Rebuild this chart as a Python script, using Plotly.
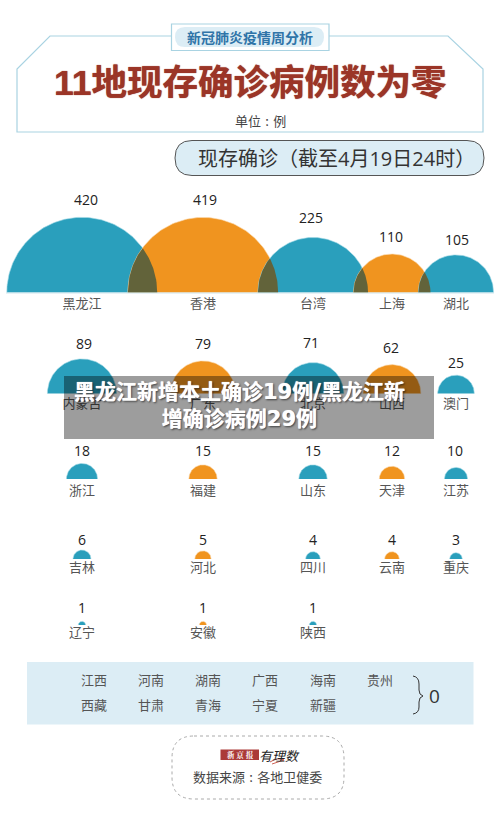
import numpy as np
import plotly.graph_objects as go

# ---- data ----
provinces = ["黑龙江", "香港", "台湾", "上海", "湖北",
             "内蒙古", "广东", "北京", "山西", "澳门",
             "浙江", "福建", "山东", "天津", "江苏",
             "吉林", "河北", "四川", "云南", "重庆",
             "辽宁", "安徽", "陕西"]
cases = [420, 419, 225, 110, 105,
         89, 79, 71, 62, 25,
         18, 15, 15, 12, 10,
         6, 5, 4, 4, 3,
         1, 1, 1]
zero_row1 = ["江西", "河南", "湖南", "广西", "海南", "贵州"]
zero_row2 = ["西藏", "甘肃", "青海", "宁夏", "新疆"]

# ---- layout helpers (pixel-space axes) ----
col_x = [82, 203, 313, 392, 456]
row_base = [292.5, 393.5, 479, 559, 625]
row_label = [305, 405, 491.5, 569, 634]
val_y = [201.5, 201.5, 219.5, 238.5, 241.5,
         345.5, 345.5, 344.5, 349.5, 364,
         452.5, 452.5, 452.5, 452.5, 452.5,
         541, 541, 541, 541, 541,
         609, 609, 609]
val_dx = [4, 2, -2, -1, 1, 2, 0, -2, -1, 0, 0, 0, 0, 0, -1, 0, 0, 0, 0, 0, 0, 0, 0]
R_SCALE = 3.67
TEAL, ORANGE, OVERLAP = "#2a9fbc", "#f0941f", "#62633a"
HALO_T, HALO_O = "#a8dbe8", "#fbdcb4"
GREY = "#555555"
CJK = "'Open Sans', 'Noto Sans CJK SC', sans-serif"
CJK_ONLY = "'Noto Sans CJK SC', sans-serif"
GAP = "\u2004:\u2004"

fig = go.Figure()
t = np.linspace(0, np.pi, 121)


def radius(v):
    return R_SCALE * np.sqrt(v)


for i, (name, v) in enumerate(zip(provinces, cases)):
    row, col = divmod(i, 5)
    cx, base, r = col_x[col], row_base[row], radius(v)
    teal = col % 2 == 0
    fig.add_trace(go.Scatter(
        x=cx + r * np.cos(t), y=base - r * np.sin(t), mode="lines",
        fill="toself", fillcolor=TEAL if teal else ORANGE,
        line=dict(width=0.6, color=HALO_T if teal else HALO_O),
        hoverinfo="skip", showlegend=False))

# overlap lenses of the neighbouring top-row semicircles
for i in range(4):
    c1, c2 = col_x[i], col_x[i + 1]
    r1, r2 = radius(cases[i]), radius(cases[i + 1])
    xs = np.linspace(c2 - r2, c1 + r1, 80)
    h = np.minimum(np.sqrt(np.clip(r1**2 - (xs - c1)**2, 0, None)),
                   np.sqrt(np.clip(r2**2 - (xs - c2)**2, 0, None)))
    fig.add_trace(go.Scatter(
        x=xs, y=row_base[0] - h, mode="lines", fill="toself",
        fillcolor=OVERLAP, line=dict(width=0), hoverinfo="skip", showlegend=False))

# value + name labels
fig.add_trace(go.Scatter(
    x=[col_x[i % 5] + val_dx[i] for i in range(len(cases))], y=val_y,
    mode="text", text=[str(v) for v in cases], textposition="middle center",
    textfont=dict(family=CJK, size=14, color="#222222"),
    hoverinfo="skip", showlegend=False))
fig.add_trace(go.Scatter(
    x=[col_x[i % 5] for i in range(len(provinces))],
    y=[row_label[i // 5] for i in range(len(provinces))],
    mode="text", text=provinces, textposition="middle center",
    textfont=dict(family=CJK_ONLY, size=13, color=GREY),
    hoverinfo="skip", showlegend=False))

# ---- zero panel ----
zero_x = [94, 151, 208, 265, 323, 380]
fig.add_trace(go.Scatter(
    x=zero_x + zero_x[:5], y=[682] * 6 + [707] * 5, mode="text",
    text=zero_row1 + zero_row2, textposition="middle center",
    textfont=dict(family=CJK_ONLY, size=13, color=GREY),
    hoverinfo="skip", showlegend=False))

shapes = [
    # header frame
    dict(type="path", path="M171,36 L50,36 L17,69 L17,132 L483,132 L483,69 L448,36 L329,36",
         line=dict(color="#a9d3e2", width=1.2), layer="below"),
    dict(type="rect", x0=171.5, x1=329, y0=24, y1=50.5, line=dict(color="#a9d3e2", width=1.2),
         fillcolor="white", layer="below"),
    dict(type="path", path="M185,27 L314,27 Q324,27 324,37 Q324,47 314,47 L185,47 Q175,47 175,37 Q175,27 185,27 Z",
         fillcolor="#dcedf5", line=dict(width=0), layer="below"),
    # date pill
    dict(type="path", path="M192,140.5 L467,140.5 Q484,140.5 484,158 Q484,175.5 467,175.5 L192,175.5 Q175,175.5 175,158 Q175,140.5 192,140.5 Z",
         fillcolor="#dcedf5", line=dict(color="#555555", width=1), layer="below"),
    # baseline
    dict(type="line", x0=6, x1=494, y0=293, y1=293, line=dict(color="#cfe6ee", width=1), layer="above"),
    # zero panel
    dict(type="rect", x0=27, x1=473.5, y0=662, y1=724.5, fillcolor="#dcedf5", line=dict(width=0), layer="below"),
    dict(type="path", path="M413,676 Q419,677 419,684 L419,690 Q419,695 423,696 Q419,697 419,702 L419,707 Q419,713 413,714",
         line=dict(color="#333333", width=1), layer="below"),
    # source box
    dict(type="path", path="M194,736 L322,736 Q344,736 344,758 L344,777 Q344,799 322,799 L194,799 Q172,799 172,777 L172,758 Q172,736 194,736 Z",
         line=dict(color="#aaaaaa", width=1, dash="dot"), layer="below"),
    dict(type="rect", x0=220.5, x1=259, y0=749.5, y1=760, fillcolor="#ab3a38", line=dict(width=0), layer="below"),
    dict(type="path", path="M270,762 Q278,757 284,760 Q278,762 272,764",
         line=dict(color="#c0392b", width=0.8), layer="above"),
    # banner
    dict(type="rect", x0=64, x1=434, y0=376, y1=439, fillcolor="rgba(0,0,0,0.385)", line=dict(width=0), layer="above"),
]

annos = [
    dict(x=249.5, y=36.5, text="新冠肺炎疫情周分析", font=dict(family=CJK_ONLY, size=14, color="#2f74a8", weight="bold")),
    dict(x=250.5, y=83, text="11地现存确诊病例数为零",
         font=dict(family="'Liberation Sans', 'Noto Sans CJK SC'", size=35.5, color="#9b3527", weight="bold",
                   shadow="0 0 1px #9b3527")),
    dict(x=260.5, y=120.5, text="单位" + GAP + "例", font=dict(family=CJK_ONLY, size=13, color="#444444")),
    dict(x=336, y=158, text="现存确诊（截至4月19日24时）", font=dict(family=CJK, size=20, color="#333333")),
    dict(x=434, y=696, text="0", font=dict(family=CJK, size=19, color="#333333")),
    dict(x=240, y=754.5, text="新 京 报", font=dict(family="'Noto Serif CJK SC', 'Noto Sans CJK SC'", size=7.5, color="white", weight="bold")),
    dict(x=279, y=755, text="<i>有理数</i>", font=dict(family=CJK_ONLY, size=13, color="#222222")),
    dict(x=257.5, y=776, text="数据来源" + GAP + "各地卫健委", font=dict(family=CJK_ONLY, size=13, color="#444444")),
    dict(x=239.5, y=405.5, text="黑龙江新增本土确诊19例/黑龙江新<br>增确诊病例29例",
         font=dict(family="'DejaVu Sans', 'Noto Sans CJK SC'", size=21, color="white", weight="bold",
                   shadow="0 0 1px #ffffff, 1px 1px 2px rgba(0,0,0,0.7)")),
]
for a in annos:
    a.update(xref="x", yref="y", showarrow=False, xanchor="center", yanchor="middle", align="center")

fig.update_layout(
    width=500, height=815, margin=dict(l=0, r=0, t=0, b=0),
    paper_bgcolor="white", plot_bgcolor="white", showlegend=False,
    xaxis=dict(range=[0, 500], visible=False, fixedrange=True),
    yaxis=dict(range=[815, 0], visible=False, fixedrange=True),
    shapes=shapes, annotations=annos)

fig.write_html("out.html", config=dict(displayModeBar=False),
               post_script="document.body.style.margin='0';document.documentElement.style.overflow='hidden';")
